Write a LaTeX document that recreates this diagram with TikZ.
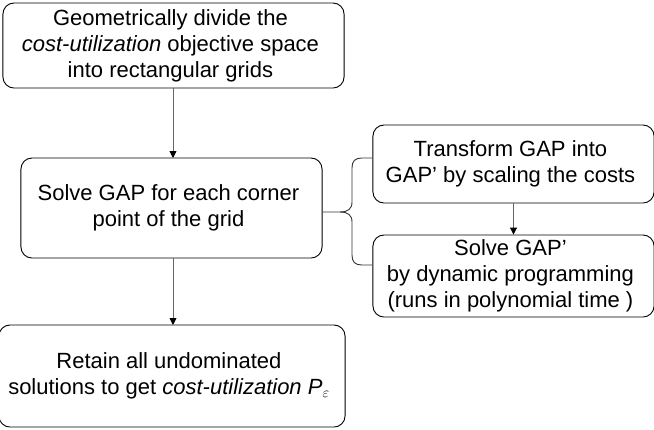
\documentclass[tikz,border=0pt]{standalone}
\usepackage{fontspec}
\setmainfont{Liberation Sans}
\usepackage{amsmath}
\usepackage{tikz}
\usetikzlibrary{calc,arrows.meta}
\tikzstyle{stagebox}=[rectangle,rounded corners=11pt,draw=black,fill=white,line width=0.9pt,
                      font=\fontsize{22}{26}\selectfont,inner sep=0pt,align=center]
\tikzstyle{flowarrow}=[draw=black!60,line width=0.9pt,-{Triangle[length=7pt,width=7pt,color=black]}]
\tikzstyle{bracket}=[draw=black!80,line width=0.9pt]
\newcommand\stagelabel[2]{\parbox{#1pt}{\centering #2}}

\begin{document}
\begin{tikzpicture}[x=1pt,y=-1pt]
	\useasboundingbox (0,0) rectangle (654,429);
	% left column
	\node [stagebox,minimum width=337pt,minimum height=85pt] (Divide) at (173.5,45.5) {
		\stagelabel{335}{Geometrically divide the\\ \textit{cost-utilization} objective space\\ into rectangular grids}
	};
	\node [stagebox,minimum width=301pt,minimum height=100pt] (Solve) at (171.5,208) {
		\stagelabel{295}{Solve GAP for each corner\\ point of the grid}
	};
	\node [stagebox,minimum width=335pt,minimum height=102pt] (Retain) at (172,376) {
		\stagelabel{340}{Retain all undominated\\ solutions to get \textit{cost-utilization} \textit{P}$_{\varepsilon}$}
	};
	% right column
	\node [stagebox,minimum width=277pt,minimum height=78pt] (Scale) at (513.5,164) {
		\stagelabel{275}{Transform GAP into\\ GAP’ by scaling the costs}
	};
	\node [stagebox,minimum width=277pt,minimum height=82pt] (Dynamic) at (513.5,276) {
		\stagelabel{275}{Solve GAP’\\ by dynamic programming\\ (runs in polynomial time )}
	};
	% arrows
	\draw [flowarrow] (173,88) -- (173,158);
	\draw [flowarrow] (173,258) -- (173,325);
	\draw [flowarrow] (Scale.south) -- (Dynamic.north);
	% brace
	\coordinate (Tip) at (340,212);
	\coordinate (TopEnd) at (Scale.west |- 0,158);
	\coordinate (BotEnd) at (Dynamic.west |- 0,265);
	\draw [bracket] (Solve.east |- Tip) -- (Tip)
		.. controls (348,212) and (352,209) .. (352,202) -- (352,168)
		.. controls (352,161) and (355,158) .. (362,158) -- (TopEnd);
	\draw [bracket] (Tip)
		.. controls (348,212) and (352,215) .. (352,222) -- (352,255)
		.. controls (352,262) and (355,265) .. (362,265) -- (BotEnd);
\end{tikzpicture}
\end{document}
